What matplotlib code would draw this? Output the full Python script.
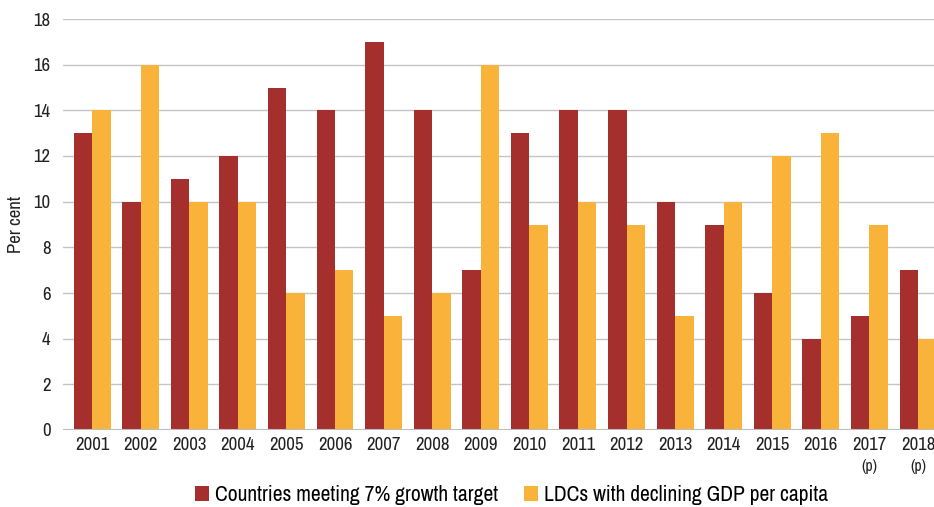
import matplotlib
matplotlib.use("Agg")
import matplotlib.pyplot as plt
import numpy as np
from matplotlib import font_manager

years = ["2001", "2002", "2003", "2004", "2005", "2006", "2007", "2008", "2009",
         "2010", "2011", "2012", "2013", "2014", "2015", "2016", "2017", "2018"]
growth_target = [13, 10, 11, 12, 15, 14, 17, 14, 7, 13, 14, 14, 10, 9, 6, 4, 5, 7]
declining_gdp = [14, 16, 10, 10, 6, 7, 5, 6, 16, 9, 10, 9, 5, 10, 12, 13, 9, 4]
provisional = ["2017", "2018"]

# condensed face, close to the original narrow Helvetica
names = {f.name for f in font_manager.fontManager.ttflist}
for fam in ["Archivo Narrow", "Barlow Semi Condensed", "DejaVu Sans"]:
    if fam in names:
        plt.rcParams["font.family"] = [fam, "DejaVu Sans"]
        break

RED = "#A52F2D"
YELLOW = "#F9B33B"
TXT = "#222222"

fig = plt.figure(figsize=(9.34, 5.07), dpi=100)
ax = fig.add_axes([63 / 934, 77 / 507, 1 - 63 / 934, (430 - 19) / 507])

x = np.arange(len(years))
w = 0.38
ax.bar(x - w / 2, growth_target, w, color=RED, label="Countries meeting 7% growth target", zorder=3)
ax.bar(x + w / 2, declining_gdp, w, color=YELLOW, label="LDCs with declining GDP per capita", zorder=3)

ax.set_ylim(0, 18)
ax.set_xlim(-0.6, len(years) - 0.67)
ax.set_yticks(range(0, 19, 2))
ax.yaxis.grid(True, color="#c4c4c4", linewidth=1.0, zorder=0)
ax.set_axisbelow(True)
for s in ["top", "right", "left", "bottom"]:
    ax.spines[s].set_visible(False)
ax.axhline(0, color="#bdbdbd", linewidth=1.5, zorder=4)
ax.tick_params(axis="both", length=0, labelsize=13.5, colors=TXT)
ax.tick_params(axis="y", pad=9)
ax.tick_params(axis="x", pad=5)
ax.set_xticks(x)
ax.set_xticklabels(years)
for xi, yr in zip(x, years):
    if yr in provisional:
        ax.text(xi, -0.07, "(p)", transform=ax.get_xaxis_transform(), ha="center",
                va="top", fontsize=11.5, color=TXT)
ax.set_ylabel("Per cent", fontsize=13.5, color=TXT, labelpad=7)

ax.legend(loc="center", bbox_to_anchor=(0.515, -0.158), ncol=2, frameon=False,
          fontsize=15.5, handlelength=0.65, handleheight=0.65, handletextpad=0.3,
          columnspacing=1.2)

fig.savefig("out.png", dpi=100)
